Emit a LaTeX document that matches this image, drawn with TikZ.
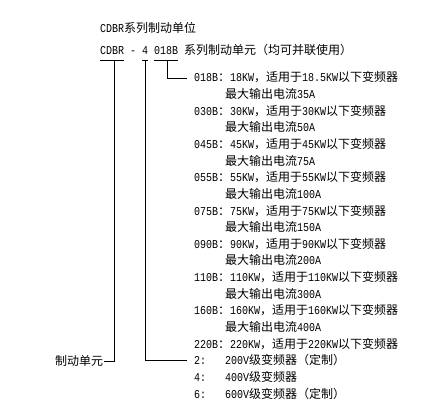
\documentclass[tikz,border=0pt]{standalone}
\usepackage{fontspec}
\setmainfont{Noto Sans CJK SC}
\newfontfamily\ascfont[FakeStretch=0.8333]{Liberation Mono}
\newcommand{\asc}[1]{{\ascfont #1}}

\begin{document}
\begin{tikzpicture}
        [x=1pt, y=-1pt,
        txt/.style={anchor=west, inner sep=0pt, text height=10pt, text depth=2pt,
                font=\fontsize{12}{14}\selectfont},
        lead/.style={black, line width=0.8pt}]

        \useasboundingbox (0,0) rectangle (439,409);

        % heading
        \node[txt] (title) at (100,29) {\asc{CDBR}系列制动单位};
        \node[txt] (cdbr) at (100,51) {\asc{CDBR}};
        \node[txt] (dash) at (130,51) {\asc{-}};
        \node[txt] (four) at (142,51) {\asc{4}};
        \node[txt] (code) at (154,51) {\asc{018B}};
        \node[txt] (series) at (184,51) {系列制动单元（均可并联使用）};

        % model list
        \node[txt] (b018) at (194,78.0) {\asc{018B}：\asc{18KW}，适用于\asc{18.5KW}以下变频器};
        \node[txt] (i018) at (225,94.6) {最大输出电流\asc{35A}};
        \node[txt] (b030) at (194,111.3) {\asc{030B}：\asc{30KW}，适用于\asc{30KW}以下变频器};
        \node[txt] (i030) at (225,127.9) {最大输出电流\asc{50A}};
        \node[txt] (b045) at (194,144.5) {\asc{045B}：\asc{45KW}，适用于\asc{45KW}以下变频器};
        \node[txt] (i045) at (225,161.2) {最大输出电流\asc{75A}};
        \node[txt] (b055) at (194,177.8) {\asc{055B}：\asc{55KW}，适用于\asc{55KW}以下变频器};
        \node[txt] (i055) at (225,194.4) {最大输出电流\asc{100A}};
        \node[txt] (b075) at (194,211.1) {\asc{075B}：\asc{75KW}，适用于\asc{75KW}以下变频器};
        \node[txt] (i075) at (225,227.7) {最大输出电流\asc{150A}};
        \node[txt] (b090) at (194,244.3) {\asc{090B}：\asc{90KW}，适用于\asc{90KW}以下变频器};
        \node[txt] (i090) at (225,260.9) {最大输出电流\asc{200A}};
        \node[txt] (b110) at (194,277.6) {\asc{110B}：\asc{110KW}，适用于\asc{110KW}以下变频器};
        \node[txt] (i110) at (225,294.2) {最大输出电流\asc{300A}};
        \node[txt] (b160) at (194,310.8) {\asc{160B}：\asc{160KW}，适用于\asc{160KW}以下变频器};
        \node[txt] (i160) at (225,327.5) {最大输出电流\asc{400A}};
        \node[txt] (b220) at (194,344.1) {\asc{220B}：\asc{220KW}，适用于\asc{220KW}以下变频器};

        % voltage classes
        \node[txt] (v2) at (194,360.7) {\asc{2:}};
        \node[txt] (v2t) at (225,360.7) {\asc{200V}级变频器（定制）};
        \node[txt] (v4) at (194,377.3) {\asc{4:}};
        \node[txt] (v4t) at (225,377.3) {\asc{400V}级变频器};
        \node[txt] (v6) at (194,394.0) {\asc{6:}};
        \node[txt] (v6t) at (225,394.0) {\asc{600V}级变频器（定制）};

        \node[txt] (unit) at (55,361.5) {制动单元};

        % underlines
        \draw[lead] ([yshift=-3pt]cdbr.south west) -- ([yshift=-3pt]cdbr.south east);
        \draw[lead] ([yshift=-3pt]four.south west) -- ([yshift=-3pt]four.south east);
        \draw[lead] ([yshift=-3pt]code.south west) -- ([yshift=-3pt]code.south east);

        % leaders
        \draw[lead] ([xshift=2pt,yshift=-3pt]cdbr.south) |- ([xshift=1pt]unit.east);
        \draw[lead] ([yshift=-3pt]four.south) |- ([xshift=-7pt]v2.west);
        \draw[lead] ([xshift=1pt,yshift=-3pt]code.south) |- ([xshift=-7pt]b018.west);

        \end{tikzpicture}
\end{document}
